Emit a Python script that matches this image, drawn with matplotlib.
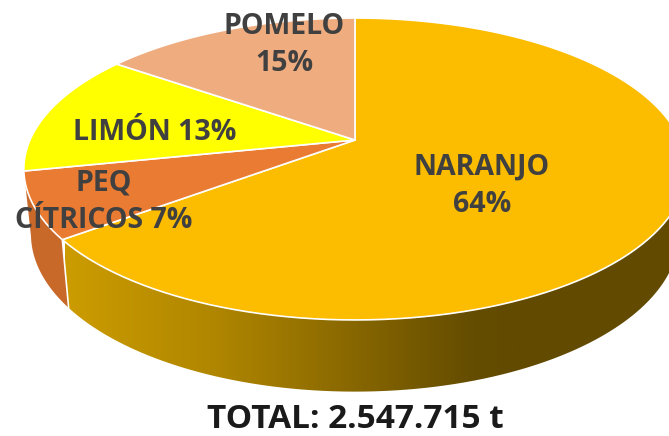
import numpy as np
import matplotlib.pyplot as plt
from matplotlib.colors import LinearSegmentedColormap
from matplotlib.patches import Polygon

# Shares as printed on the chart (they add up to 99)
names = ['NARANJO', 'PEQ\nCÍTRICOS', 'LIMÓN', 'POMELO']
values = [64, 7, 13, 15]
colors = ['#FCBC00', '#EA7B32', '#FFFF00', '#EFAC7F']
total_label = 'TOTAL: 2.547.715 t'

plt.rcParams['font.family'] = ['Open Sans', 'DejaVu Sans']

# perspective of the tilted disc, in picture pixels
cx, cy = 355, 140
k = 0.192
top_a, top_b = 145.4, 325
low_c, low_a, low_b = 204, 151.6, 318


def project(frac, c, a, b):
    # frac runs clockwise from 12 o'clock
    t = 2 * np.pi * np.asarray(frac)
    u, v = np.sin(t), np.cos(t)
    return np.column_stack([cx + b * u / (1 + k * v), c - a * v / (1 + k * v)])


def top_arc(f0, f1):
    return project(np.linspace(f0, f1, 120), cy, top_a, top_b)


def low_arc(f0, f1):
    return project(np.linspace(f0, f1, 120), low_c, low_a, low_b)


fig = plt.figure(figsize=(6.69, 4.36), dpi=100)
ax = fig.add_axes([0, 0, 1, 1])

edges = np.concatenate([[0], np.cumsum(values)]) / sum(values)

# side wall of the big slice, with the dark gradient
side = np.vstack([top_arc(0.15, edges[1]), low_arc(edges[1], 0.15)])
patch = Polygon(side, closed=True, fc='none', ec='none')
ax.add_patch(patch)
cmap = LinearSegmentedColormap.from_list('side', [(0, '#CC9C00'), (0.33, '#B08600'),
                                                  (0.9, '#644C00'), (1, '#624A00')])
img = ax.imshow(np.linspace(0, 1, 256).reshape(1, -1), cmap=cmap, extent=[65, 520, 436, 0],
                aspect='auto', zorder=1)
img.set_clip_path(patch)
ax.imshow(np.ones((1, 2)), cmap=LinearSegmentedColormap.from_list('d', ['#624A00', '#624A00']),
          extent=[520, 700, 436, 0], aspect='auto', zorder=1).set_clip_path(patch)

# side wall of the small orange slice
side2 = np.vstack([top_arc(edges[1], edges[2]), low_arc(edges[2], edges[1])])
ax.add_patch(Polygon(side2, closed=True, fc='#C8692A', ec='none', zorder=1))

# white seam between the two walls
seam = np.vstack([top_arc(edges[1], edges[1])[:1], low_arc(edges[1], edges[1])[:1]])
ax.plot(seam[:, 0], seam[:, 1], color='white', lw=1.2, zorder=2)

# top face
for i, col in enumerate(colors):
    pts = np.vstack([[cx, cy], top_arc(edges[i], edges[i + 1])])
    ax.add_patch(Polygon(pts, closed=True, fc=col, ec='white', lw=1.2, joinstyle='round', zorder=3))

txt = dict(color='#404040', fontsize=20.5, fontweight='bold', ha='center', va='center',
           zorder=5, linespacing=1.38)
ax.text(482, 186, '%s\n%d%%' % (names[0], values[0]), **txt)
ax.text(104, 202, '%s %d%%' % (names[1], values[1]), **txt)
ax.text(155, 132, '%s %d%%' % (names[2], values[2]), **txt)
ax.text(284, 45, '%s\n%d%%' % (names[3], values[3]), **txt)
ax.text(355, 419, total_label, color='#1A1A1A', fontsize=24, fontweight='bold',
        ha='center', va='center', zorder=5)

ax.set_xlim(0, 669)
ax.set_ylim(436, 0)
ax.axis('off')

fig.savefig('out.png', dpi=100)
